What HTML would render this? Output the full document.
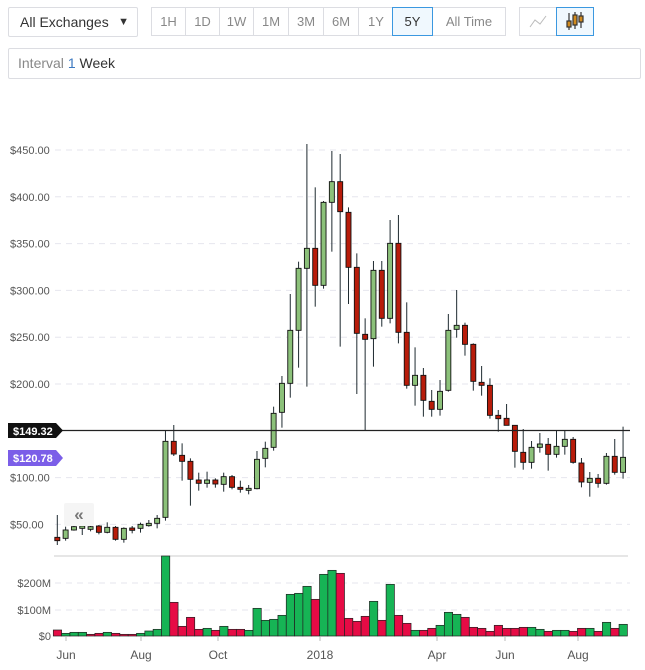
<!DOCTYPE html>
<html><head><meta charset="utf-8"><style>
body{margin:0;width:645px;height:670px;background:#fff;font-family:"Liberation Sans",sans-serif;position:relative;overflow:hidden}
.box{position:absolute;border:1px solid #dcdde2;border-radius:2px;box-sizing:border-box}
.btn{position:absolute;top:7px;height:29px;box-sizing:border-box;border:1px solid #dcdde2;font-size:13px;color:#888;text-align:center;line-height:27px}
</style></head><body>
<div class="box" style="left:8px;top:7px;width:130px;height:30px;font-size:14px;color:#333;line-height:28px;padding-left:11px">All Exchanges <span style="position:absolute;right:8px;font-size:11px">▼</span></div>
<div class="btn" style="left:151px;width:35px">1H</div>
<div class="btn" style="left:185px;width:35px">1D</div>
<div class="btn" style="left:219px;width:35px">1W</div>
<div class="btn" style="left:253px;width:36px">1M</div>
<div class="btn" style="left:288px;width:36px">3M</div>
<div class="btn" style="left:323px;width:36px">6M</div>
<div class="btn" style="left:358px;width:36px">1Y</div>
<div class="btn" style="left:432px;width:74px">All Time</div>
<div class="btn" style="left:392px;width:41px;border-color:#3b98e0;background:#f0f8fe;color:#333">5Y</div>
<div class="btn" style="left:519px;width:38px"><svg width="36" height="27"><polyline points="10,19 15,12 20,16 26,8" fill="none" stroke="#bbb" stroke-width="1"/></svg></div>
<div class="btn" style="left:556px;width:38px;border-color:#3b98e0;background:#f0f8fe"><svg width="36" height="27"><g stroke="#333" stroke-width="1.2"><line x1="12" y1="5" x2="12" y2="22"/><rect x="10" y="13" width="4" height="6" fill="#d08a1e"/><line x1="18" y1="4" x2="18" y2="21"/><rect x="16" y="7" width="4" height="10" fill="#d08a1e"/><line x1="24" y1="4" x2="24" y2="20"/><rect x="22" y="8" width="4" height="6" fill="#d08a1e"/></g></svg></div>
<div class="box" style="left:8px;top:48px;width:633px;height:31px;font-size:14px;color:#888;line-height:29px;padding-left:9px">Interval <span style="color:#3b78c0">1</span> <span style="color:#333">Week</span></div>
<svg id="c" width="645" height="670" style="position:absolute;left:0;top:0" font-family="Liberation Sans, sans-serif"></svg>
<script>
var s='';
function yp(p){return 150+(450-p)*0.936;}
[450,400,350,300,250,200,100,50].forEach(function(p){var y=yp(p);s+='<line x1="55" x2="630" y1="'+y+'" y2="'+y+'" stroke="#e6e6ee" stroke-dasharray="6,5"/><text x="10" y="'+(y+4)+'" font-size="11" fill="#555">$'+p+'.00</text>';});
[[583,'$200M'],[610,'$100M'],[636,'$0']].forEach(function(a){if(a[1]!='$0')s+='<line x1="55" x2="630" y1="'+a[0]+'" y2="'+a[0]+'" stroke="#e6e6ee" stroke-dasharray="6,5"/>';s+='<text x="51" y="'+(a[0]+4)+'" font-size="11" fill="#555" text-anchor="end">'+a[1]+'</text>';});
s+='<line x1="54" x2="628" y1="556" y2="556" stroke="#ccc"/>';
var C=[[1,52,'r',1222,1232,1155,1245],[1,76,'g',1200,1225,1190,1232],[1,100,'g',1190,1200,1185,1202],[1,126,'g',1188,1195,1185,1215],[1,151,'g',1190,1198,1186,1204],[1,176,'r',1188,1207,1185,1213],[1,202,'g',1192,1207,1177,1210],[1,227,'r',1192,1228,1188,1232],[1,251,'g',1195,1228,1192,1238],[1,277,'r',1194,1201,1188,1210],[1,302,'g',1183,1195,1178,1208],[1,326,'g',1180,1187,1170,1190],[1,352,'g',1165,1180,1155,1195],[1,376,'g',934,1162,902,1172],[1,400,'r',934,972,885,978],[1,427,'r',976,994,940,1052],[1,451,'r',994,1048,985,1127],[1,476,'r',1050,1060,1028,1082],[1,502,'g',1050,1060,1025,1073],[1,527,'r',1050,1062,1045,1073],[1,552,'g',1040,1063,1028,1085],[1,577,'r',1040,1072,1035,1078],[1,602,'r',1072,1078,1052,1088],[1,626,'g',1075,1081,1065,1093],[1,652,'g',988,1076,963,1078],[1,676,'g',955,985,935,1012],[1,701,'g',850,952,830,962],[1,726,'g',760,847,738,893],[1,751,'g',601,760,492,803],[1,776,'g',415,601,395,713],[1,802,'g',355,415,42,770],[1,826,'r',355,466,172,530],[1,851,'g',217,466,213,476],
[2,7,'g',155,217,63,365],[2,31,'r',155,245,72,650],[2,55,'r',247,412,232,522],[2,82,'r',412,610,370,792],[2,106,'r',613,628,565,902],[2,130,'g',421,626,393,710],[2,156,'r',421,565,393,590],[2,181,'g',340,565,270,580],[2,205,'r',340,607,255,640],[2,232,'r',607,766,517,776],[2,256,'g',736,766,652,827],[2,280,'r',736,811,714,860],[2,307,'r',814,838,780,860],[2,331,'g',784,838,750,857],[2,355,'g',601,781,552,785],[2,382,'g',586,598,480,623],[2,406,'r',586,643,578,677],[2,430,'r',643,754,640,782],[2,457,'r',757,766,708,797],[2,481,'r',766,856,745,866],[2,506,'r',856,866,840,905],[2,532,'r',865,886,822,886],[2,556,'r',886,964,886,1013],[2,580,'r',967,997,897,1019],[2,607,'g',952,997,933,1016],[2,631,'g',942,952,909,968],[2,656,'r',943,973,924,1022],[2,682,'g',949,973,901,983],[2,706,'g',928,949,901,974],[2,731,'r',928,997,921,1001],[2,757,'r',999,1056,984,1072],[2,781,'g',1045,1057,1026,1100],[2,805,'r',1045,1060,1032,1073],[2,832,'g',979,1060,969,1064],[2,856,'r',979,1027,927,1034],[2,880,'g',982,1027,890,1046]];
var V=[['r',240],['g',250],['g',247],['g',247],['r',253],['r',250],['g',247],['r',250],['r',253],['r',253],['g',250],['g',243],['g',238],['g',18],['r',157],['r',229],['r',202],['r',238],['g',235],['r',241],['g',229],['r',238],['r',238],['g',241],['g',175],['g',211],['g',208],['g',196],['g',133],['g',130],['g',109],['r',148],['g',73],['g',61],['r',70],['r',205],['r',214],['r',199],['g',154],['r',211],['g',103],['r',196],['r',220],['g',241],['r',241],['r',235],['g',226],['g',187],['g',193],['r',202],['r',232],['r',235],['r',244],['r',226],['r',235],['r',235],['r',232],['g',232],['g',238],['r',244],['g',241],['g',241],['r',244],['r',235],['g',235],['r',244],['g',217],['r',235],['g',223]];
var cs='';
C.forEach(function(c,i){var x=57.3+i*8.32;var Y=function(v){return 130+v/3;};
cs+='<line x1="'+x+'" x2="'+x+'" y1="'+Y(c[5])+'" y2="'+Y(c[6])+'" stroke="#1e2a30" stroke-width="1"/>';
var h=Math.max(Y(c[4])-Y(c[3]),2);
cs+='<rect x="'+(x-2.5)+'" y="'+Y(c[3])+'" width="5" height="'+h+'" fill="'+(c[2]=='g'?'#8cc17a':'#b81c0a')+'" stroke="#111" stroke-width="0.9"/>';
var v=V[i];var top=550+v[1]/3;
cs+='<rect x="'+(x-4)+'" y="'+top+'" width="8.3" height="'+(636-top)+'" fill="'+(v[0]=='g'?'#16b455':'#e60b45')+'" stroke="#222" stroke-width="0.7"/>';
});
s+=cs;
s+='<line x1="60" x2="630" y1="430.5" y2="430.5" stroke="#222" stroke-width="1.2"/>';
s+='<path d="M8,423 H56 L63,430.5 L56,438 H8 Z" fill="#111"/><text x="13" y="435" font-size="11" font-weight="bold" fill="#fff">$149.32</text>';
s+='<path d="M8,450 H56 L63,458 L56,466 H8 Z" fill="#7b5ee8"/><text x="13" y="462" font-size="11" font-weight="bold" fill="#fff">$120.78</text>';
s+='<rect x="64" y="503" width="30" height="23" rx="2" fill="#f5f5f5"/><text x="79" y="520" font-size="17" fill="#777" text-anchor="middle" font-weight="bold">«</text>';
[[66,'Jun'],[141,'Aug'],[218,'Oct'],[320,'2018'],[437,'Apr'],[505,'Jun'],[578,'Aug']].forEach(function(a){s+='<line x1="'+a[0]+'" x2="'+a[0]+'" y1="637" y2="641" stroke="#bbb"/><text x="'+a[0]+'" y="659" font-size="12" fill="#555" text-anchor="middle">'+a[1]+'</text>';});
document.getElementById('c').innerHTML=s;
</script>
</body></html>
